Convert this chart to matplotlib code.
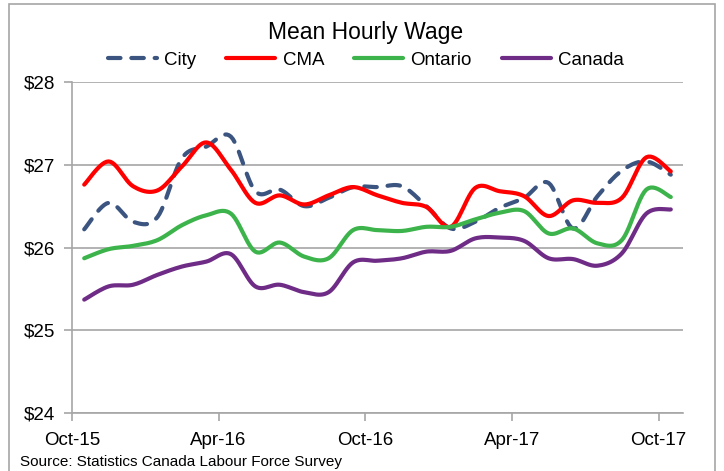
import numpy as np
import matplotlib
matplotlib.use("Agg")
import matplotlib.pyplot as plt
from matplotlib.patches import Rectangle

# ---------------------------------------------------------------------------
# Donnees : Oct-15 -> Oct-17, mensuel
months = ["Oct-15", "Nov-15", "Dec-15", "Jan-16", "Feb-16", "Mar-16", "Apr-16",
          "May-16", "Jun-16", "Jul-16", "Aug-16", "Sep-16", "Oct-16", "Nov-16",
          "Dec-16", "Jan-17", "Feb-17", "Mar-17", "Apr-17", "May-17", "Jun-17",
          "Jul-17", "Aug-17", "Sep-17", "Oct-17"]
tick_labels = ["Oct-15", "Apr-16", "Oct-16", "Apr-17", "Oct-17"]

city = [26.22, 26.54, 26.31, 26.37, 27.08, 27.22, 27.34, 26.68, 26.70, 26.50,
        26.60, 26.73, 26.73, 26.74, 26.50, 26.23, 26.31, 26.48, 26.60, 26.78,
        26.23, 26.62, 26.93, 27.04, 26.88]
cma = [26.76, 27.04, 26.74, 26.69, 26.98, 27.27, 26.94, 26.54, 26.63, 26.52,
       26.63, 26.73, 26.63, 26.54, 26.49, 26.25, 26.72, 26.68, 26.62, 26.38,
       26.57, 26.54, 26.60, 27.09, 26.92]
ontario = [25.87, 25.98, 26.02, 26.09, 26.27, 26.39, 26.41, 25.95, 26.06, 25.89,
           25.87, 26.21, 26.21, 26.20, 26.25, 26.25, 26.34, 26.42, 26.44, 26.17,
           26.23, 26.05, 26.09, 26.70, 26.61]
canada = [25.37, 25.53, 25.55, 25.67, 25.77, 25.83, 25.92, 25.53, 25.55, 25.46,
          25.46, 25.82, 25.84, 25.87, 25.95, 25.96, 26.11, 26.12, 26.08, 25.87,
          25.86, 25.78, 25.93, 26.41, 26.46]


# ---------------------------------------------------------------------------
# Lissage facon Excel (Catmull-Rom) pour le trace uniquement
def smooth(x, y, n=12):
  x = np.asarray(x, float)
  y = np.asarray(y, float)
  px = np.concatenate([[x[0]], x, [x[-1]]])
  py = np.concatenate([[y[0]], y, [y[-1]]])
  xs, ys = [], []
  t = np.linspace(0, 1, n, endpoint=False)
  for i in range(1, len(px) - 2):
    for p, out in ((px, xs), (py, ys)):
      p0, p1, p2, p3 = p[i - 1], p[i], p[i + 1], p[i + 2]
      out.extend(0.5 * ((2 * p1) + (-p0 + p2) * t
                        + (2 * p0 - 5 * p1 + 4 * p2 - p3) * t**2
                        + (-p0 + 3 * p1 - 3 * p2 + p3) * t**3))
  xs.append(x[-1])
  ys.append(y[-1])
  return np.array(xs), np.array(ys)


def main():
  plt.rcParams['font.family'] = ['Liberation Sans', 'DejaVu Sans']

  fig = plt.figure(figsize=(7.24, 4.71), dpi=100)
  ax = fig.add_axes([72/724, 1 - 413/471, (683-72)/724, (413-82)/471])

  # cadre exterieur
  fig.patches.append(Rectangle((9/724, -0.05), (715-9)/724, 1.05 - 4/471,
                               transform=fig.transFigure, fill=False,
                               ec="#a6a6a6", lw=1.2))

  x = np.arange(len(months)) + 0.5
  series = [("City", city, "#3b5580", (0, (3, 2.6))),
            ("CMA", cma, "#ff0000", "-"),
            ("Ontario", ontario, "#3cb44b", "-"),
            ("Canada", canada, "#6f2c86", "-")]
  for name, vals, col, ls in series:
    sx, sy = smooth(x, vals)
    ax.plot(sx, sy, c=col, lw=3, ls=ls, label=name,
            solid_capstyle="round", dash_capstyle="round")

  ax.set_xlim(0, len(months))
  ax.set_ylim(24, 28)
  ax.set_xticks([0, 6, 12, 18, 24])
  ax.set_xticklabels(tick_labels)
  ax.set_yticks([24, 25, 26, 27, 28])
  ax.set_yticklabels(["$24", "$25", "$26", "$27", "$28"])
  ax.grid(axis="y", c="#a6a6a6", lw=1.2)
  ax.set_axisbelow(True)
  for s in ["top", "right"]:
    ax.spines[s].set_visible(False)
  for s in ["left", "bottom"]:
    ax.spines[s].set_color("#a6a6a6")
    ax.spines[s].set_linewidth(1.2)
  ax.tick_params(axis="both", colors="#a6a6a6", labelcolor="black",
                 labelsize=13.5, length=6, width=1.2)
  ax.tick_params(axis="x", pad=8)
  ax.tick_params(axis="y", pad=6)

  fig.text(366/724, 1 - 33/471, "Mean Hourly Wage", ha="center", va="center",
           fontsize=16.5)
  fig.legend(loc="center", bbox_to_anchor=(366/724, 1 - 60/471), ncol=4,
             frameon=False, fontsize=13.5, handlelength=2.6, handletextpad=0.4,
             columnspacing=1.6)
  fig.text(20/724, 1 - 462/471, "Source: Statistics Canada Labour Force Survey",
           ha="left", va="center", fontsize=11)

  fig.savefig("out.png", dpi=100)


if __name__ == '__main__':
  main()
